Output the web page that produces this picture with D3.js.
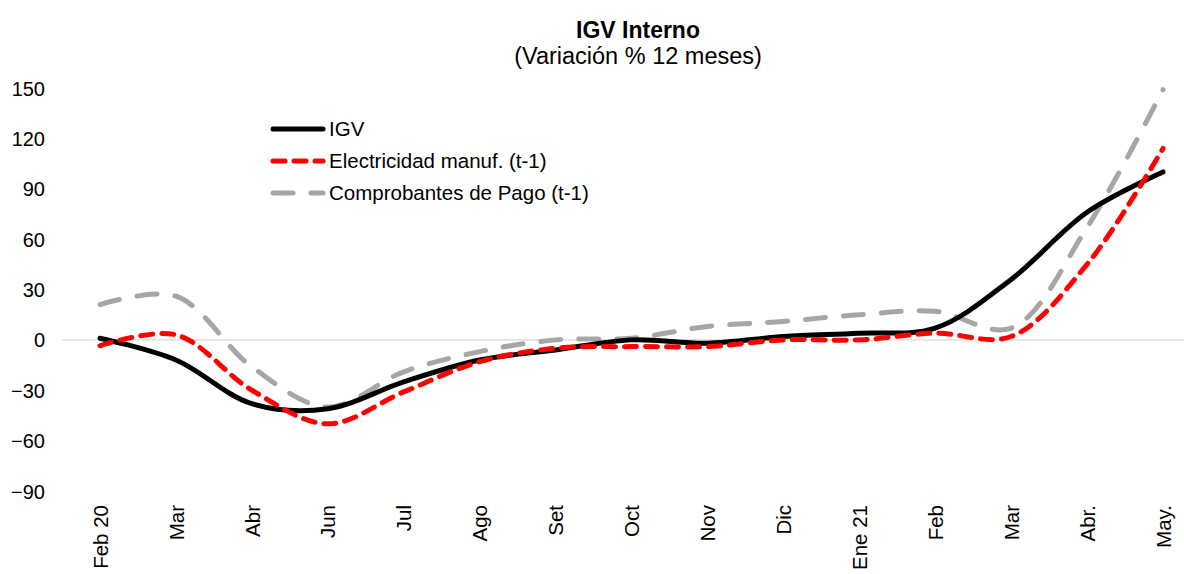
<!DOCTYPE html>
<html>
<head>
<meta charset="utf-8">
<script src="https://cdn.jsdelivr.net/npm/d3@7"></script>
<style>
  body { margin: 0; background: #fff; }
  text { font-family: "Liberation Sans", Arial, sans-serif; fill: #000; }
</style>
</head>
<body>
<div id="chart"></div>
<script>
// month labels as they appear on the axis
var months = ["Feb 20", "Mar", "Abr", "Jun", "Jul", "Ago", "Set", "Oct", "Nov", "Dic", "Ene 21", "Feb", "Mar", "Abr.", "May."];

// series
var igv = [1, -12, -38, -41, -25, -12, -6, 0, -2, 2, 4, 7, 36, 76, 100];
var electricidad = [-3.5, 3, -30, -50, -31, -13, -5, -4, -4, 0, 0, 4, 2, 45, 114];
var comprobantes = [21, 26, -16, -40, -19, -7, 0, 1, 8, 11, 15, 17, 7, 67, 149];

var yTicks = [-90, -60, -30, 0, 30, 60, 90, 120, 150];

var width = 1184, height = 574;

var svg = d3.select("#chart").append("svg")
  .attr("width", width)
  .attr("height", height);

// x positions: categories evenly spaced, first at 100, last at 1163
var x = d3.scalePoint()
  .domain(d3.range(months.length))
  .range([100, 1163]);

var y = d3.scaleLinear()
  .domain([-90, 150])
  .range([491, 88]);

// title
svg.append("text")
  .attr("x", 638).attr("y", 38)
  .attr("text-anchor", "middle")
  .style("font-size", "23px").style("font-weight", "bold")
  .text("IGV Interno");
svg.append("text")
  .attr("x", 638).attr("y", 64)
  .attr("text-anchor", "middle")
  .style("font-size", "23.5px")
  .text("(Variación % 12 meses)");

// y axis labels (no line, no ticks)
var yAxis = d3.axisLeft(y).tickValues(yTicks).tickSize(0).tickPadding(0);
var yg = svg.append("g")
  .attr("transform", "translate(45,0)")
  .call(yAxis);
yg.select(".domain").remove();
yg.selectAll("text")
  .attr("dy", "0.35em")
  .style("font-size", "20px")
  .style("font-family", "'Liberation Sans', Arial, sans-serif");

// zero line
svg.append("line")
  .attr("x1", 62).attr("x2", width)
  .attr("y1", y(0)).attr("y2", y(0))
  .attr("stroke", "#d9d9d9")
  .attr("stroke-width", 1.3);

// x labels rotated
var xAxis = d3.axisBottom(x).tickSize(0).tickFormat(function(i) { return months[i]; });
var xg = svg.append("g")
  .attr("transform", "translate(0,505)")
  .call(xAxis);
xg.select(".domain").remove();
xg.selectAll("text")
  .attr("transform", "rotate(-90)")
  .attr("text-anchor", "end")
  .attr("x", 0).attr("y", 0)
  .attr("dy", "0.35em")
  .style("font-size", "20.5px")
  .style("font-family", "'Liberation Sans', Arial, sans-serif");

var line = d3.line()
  .x(function(d, i) { return x(i); })
  .y(function(d) { return y(d); })
  .curve(d3.curveCatmullRom.alpha(0.5));

var series = [
  { name: "IGV", values: igv, color: "#000000", dash: null },
  { name: "Electricidad manuf. (t-1)", values: electricidad, color: "#ff0000", dash: "12,9" },
  { name: "Comprobantes de Pago (t-1)", values: comprobantes, color: "#a6a6a6", dash: "20,18" }
];

// gray under, black, red on top
var order = [series[2], series[0], series[1]];
svg.selectAll("path.series")
  .data(order)
  .enter().append("path")
  .attr("class", "series")
  .attr("d", function(d) { return line(d.values); })
  .attr("fill", "none")
  .attr("stroke", function(d) { return d.color; })
  .attr("stroke-width", 5)
  .attr("stroke-linecap", "round")
  .attr("stroke-dasharray", function(d) { return d.dash; });

// legend
var legend = svg.append("g");
series.forEach(function(s, i) {
  var ly = 129 + i * 32;
  legend.append("line")
    .attr("x1", 273).attr("x2", 323)
    .attr("y1", ly).attr("y2", ly)
    .attr("stroke", s.color)
    .attr("stroke-width", 5)
    .attr("stroke-linecap", "round")
    .attr("stroke-dasharray", s.dash);
  legend.append("text")
    .attr("x", 329).attr("y", ly)
    .attr("dy", "0.35em")
    .style("font-size", "20.5px")
    .text(s.name);
});
</script>
</body>
</html>
